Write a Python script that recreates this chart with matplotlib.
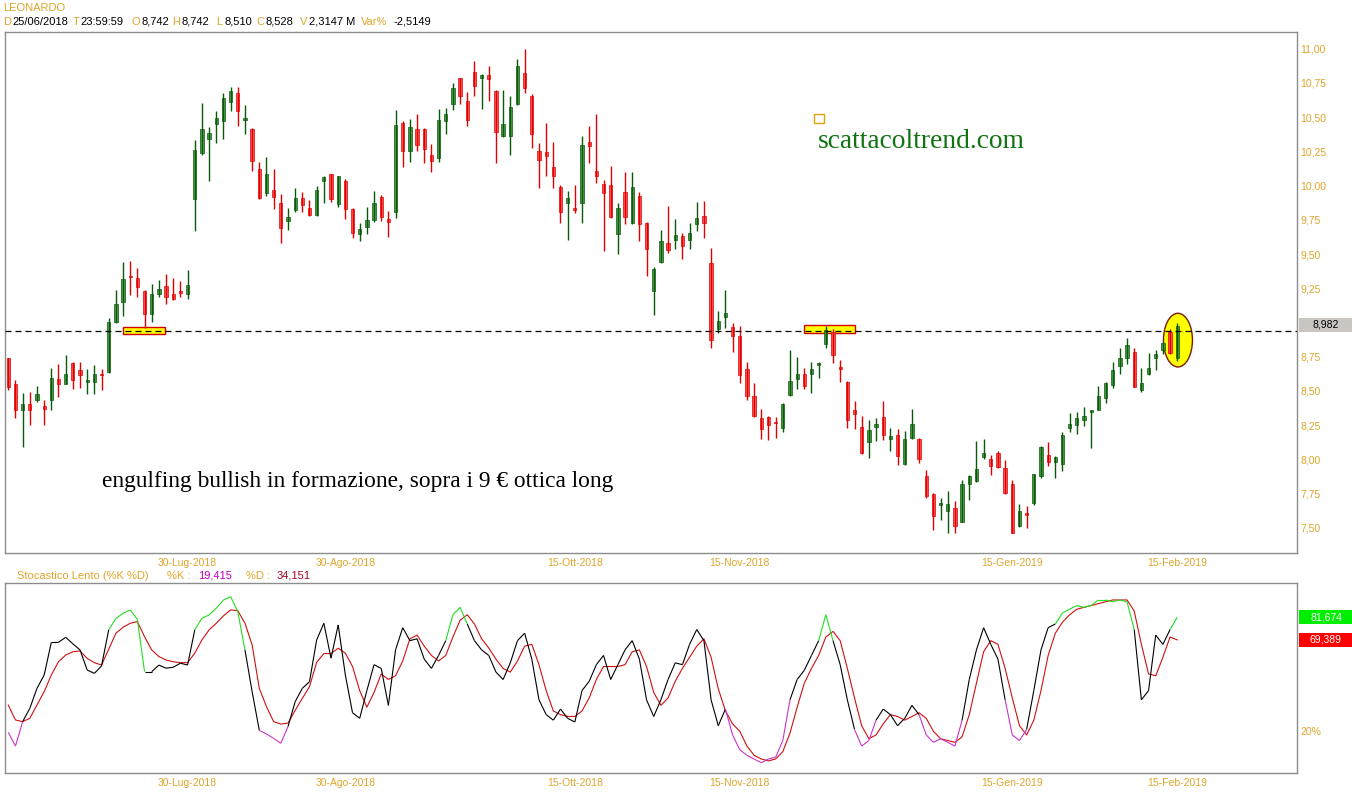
import numpy as np
import pandas as pd
import matplotlib
matplotlib.use('Agg')
import matplotlib.pyplot as plt
import matplotlib.transforms as mtransforms
from matplotlib.patches import Rectangle, Ellipse
from matplotlib.collections import LineCollection

plt.rcParams['font.family'] = ['Liberation Sans', 'DejaVu Sans']
plt.rcParams['lines.scale_dashes'] = False

W, H = 1352, 800

#%% data
opens = [8.742, 8.553, 8.357, 8.406, 8.430, 8.393, 8.430, 8.590, 8.553, 8.705,
         8.651, 8.567, 8.567, 8.626, 8.639, 9.006, 9.153, 9.342, 9.325, 9.227,
         9.063, 9.210, 9.264, 9.210, 9.227, 9.210, 9.901, 10.239, 10.337, 10.452,
         10.470, 10.607, 10.673, 10.479, 10.416, 10.122, 9.945, 9.970, 9.876, 9.741,
         9.822, 9.906, 9.839, 9.783, 10.036, 10.082, 9.864, 10.036, 9.832, 9.648,
         9.700, 9.750, 9.920, 9.759, 9.808, 10.460, 10.254, 10.411, 10.416, 10.224,
         10.200, 10.470, 10.599, 10.783, 10.617, 10.827, 10.783, 10.808, 10.690, 10.361,
         10.364, 10.599, 10.820, 10.656, 10.256, 10.244, 10.134, 9.987, 9.871, 9.839,
         9.876, 10.318, 10.110, 10.011, 10.006, 9.643, 9.955, 9.724, 9.925, 9.729,
         9.227, 9.445, 9.577, 9.606, 9.631, 9.606, 9.717, 9.778, 9.435, 8.950,
         9.038, 8.964, 8.901, 8.663, 8.460, 8.303, 8.308, 8.276, 8.229, 8.467,
         8.590, 8.621, 8.626, 8.688, 8.842, 8.933, 8.675, 8.565, 8.362, 8.239,
         8.124, 8.239, 8.308, 8.148, 8.180, 7.965, 8.156, 8.148, 7.879, 7.749,
         7.666, 7.626, 7.646, 7.543, 7.817, 7.842, 8.018, 8.001, 8.043, 7.935,
         7.817, 7.511, 7.609, 7.683, 7.879, 8.033, 7.984, 7.965, 8.229, 8.249,
         8.288, 8.344, 8.362, 8.450, 8.541, 8.680, 8.737, 8.786, 8.504, 8.626,
         8.737, 8.798, 8.933, 8.737]
highs = [8.742, 8.577, 8.484, 8.491, 8.533, 8.430, 8.670, 8.695, 8.761, 8.712,
         8.712, 8.663, 8.688, 8.663, 9.030, 9.239, 9.440, 9.447, 9.398, 9.239,
         9.283, 9.308, 9.357, 9.325, 9.300, 9.386, 10.330, 10.600, 10.428, 10.543,
         10.673, 10.722, 10.722, 10.592, 10.420, 10.175, 10.207, 10.121, 9.937, 9.839,
         9.979, 9.950, 9.896, 9.999, 10.072, 10.085, 10.072, 10.048, 9.839, 9.729,
         9.840, 9.962, 9.930, 9.815, 10.550, 10.470, 10.484, 10.526, 10.420, 10.305,
         10.560, 10.567, 10.746, 10.783, 10.680, 10.913, 10.813, 10.876, 10.697, 10.697,
         10.653, 10.925, 10.996, 10.666, 10.313, 10.460, 10.318, 10.004, 9.957, 10.004,
         10.362, 10.435, 10.526, 10.043, 10.146, 9.876, 10.102, 10.097, 9.955, 9.734,
         9.406, 9.678, 9.852, 9.754, 9.656, 9.729, 9.881, 9.889, 9.545, 9.087,
         9.234, 8.999, 8.974, 8.712, 8.558, 8.369, 8.320, 8.308, 8.411, 8.798,
         8.749, 8.670, 8.712, 8.712, 8.974, 8.950, 8.729, 8.572, 8.425, 8.320,
         8.288, 8.303, 8.425, 8.229, 8.222, 8.209, 8.369, 8.156, 7.920, 7.756,
         7.720, 7.768, 7.695, 7.847, 7.886, 8.136, 8.148, 8.033, 8.058, 7.994,
         7.847, 7.675, 7.658, 7.896, 8.100, 8.124, 8.026, 8.197, 8.337, 8.345,
         8.386, 8.362, 8.533, 8.565, 8.712, 8.810, 8.884, 8.810, 8.670, 8.778,
         8.798, 8.859, 8.950, 8.999]
lows = [8.510, 8.303, 8.087, 8.254, 8.418, 8.254, 8.362, 8.455, 8.548, 8.516,
        8.523, 8.479, 8.474, 8.509, 8.631, 8.999, 9.048, 9.202, 9.185, 8.957,
        9.006, 9.185, 9.136, 9.165, 9.185, 9.170, 9.668, 10.224, 10.036, 10.313,
        10.337, 10.546, 10.435, 10.379, 10.109, 9.901, 9.925, 9.827, 9.582, 9.675,
        9.808, 9.808, 9.778, 9.778, 9.871, 9.881, 9.840, 9.759, 9.619, 9.594,
        9.643, 9.734, 9.741, 9.626, 9.766, 10.134, 10.170, 10.254, 10.165, 10.102,
        10.175, 10.380, 10.550, 10.599, 10.435, 10.656, 10.558, 10.616, 10.165, 10.354,
        10.220, 10.592, 10.673, 10.271, 9.983, 10.072, 9.983, 9.729, 9.601, 9.798,
        9.729, 10.165, 10.018, 9.520, 9.766, 9.503, 9.717, 9.717, 9.594, 9.342,
        9.053, 9.435, 9.504, 9.538, 9.460, 9.538, 9.668, 9.619, 8.810, 8.920,
        8.957, 8.786, 8.558, 8.430, 8.308, 8.148, 8.141, 8.156, 8.197, 8.460,
        8.516, 8.516, 8.484, 8.597, 8.810, 8.705, 8.565, 8.229, 8.222, 8.038,
        8.009, 8.136, 8.141, 8.058, 7.960, 7.960, 8.148, 7.977, 7.715, 7.487,
        7.560, 7.460, 7.460, 7.543, 7.700, 7.837, 8.001, 7.886, 7.935, 7.749,
        7.462, 7.504, 7.499, 7.665, 7.862, 7.952, 7.862, 7.915, 8.197, 8.185,
        8.246, 8.082, 8.357, 8.411, 8.523, 8.621, 8.695, 8.528, 8.492, 8.614,
        8.656, 8.768, 8.773, 8.720]
closes = [8.528, 8.362, 8.406, 8.357, 8.474, 8.369, 8.597, 8.553, 8.626, 8.582,
          8.614, 8.582, 8.621, 8.616, 9.006, 9.136, 9.317, 9.332, 9.259, 9.063,
          9.210, 9.246, 9.185, 9.170, 9.215, 9.271, 10.261, 10.411, 10.386, 10.494,
          10.641, 10.690, 10.543, 10.496, 10.183, 9.906, 10.085, 9.920, 9.692, 9.773,
          9.906, 9.857, 9.783, 9.969, 10.066, 9.901, 10.067, 9.827, 9.656, 9.685,
          9.750, 9.871, 9.773, 9.734, 10.445, 10.249, 10.428, 10.293, 10.269, 10.183,
          10.477, 10.520, 10.714, 10.656, 10.477, 10.729, 10.808, 10.778, 10.391, 10.452,
          10.572, 10.876, 10.714, 10.379, 10.190, 10.215, 10.072, 9.808, 9.906, 9.822,
          10.298, 10.288, 10.067, 9.945, 9.773, 9.839, 9.773, 9.987, 9.717, 9.538,
          9.391, 9.592, 9.528, 9.636, 9.558, 9.656, 9.766, 9.724, 8.871, 9.013,
          9.067, 8.901, 8.614, 8.460, 8.320, 8.222, 8.254, 8.264, 8.401, 8.572,
          8.621, 8.533, 8.663, 8.705, 8.945, 8.761, 8.663, 8.288, 8.332, 8.050,
          8.214, 8.259, 8.180, 8.173, 8.026, 8.148, 8.259, 8.001, 7.732, 7.585,
          7.683, 7.675, 7.511, 7.817, 7.879, 7.928, 8.043, 7.952, 7.945, 7.756,
          7.462, 7.621, 7.592, 7.890, 8.087, 7.984, 8.016, 8.180, 8.259, 8.303,
          8.320, 8.357, 8.460, 8.558, 8.656, 8.744, 8.835, 8.528, 8.558, 8.670,
          8.768, 8.847, 8.778, 8.974]

# Stocastico lento %K and %D
k_slow = [19.415, 12.0, 25.2, 32.4, 43.2, 50.4, 68.1, 68.1, 70.8, 67.3,
          64.0, 53.1, 51.3, 55.3, 74.8, 81.0, 83.8, 85.6, 80.5, 52.2,
          52.2, 55.8, 54.1, 54.6, 56.8, 55.8, 74.8, 81.1, 82.9, 86.5,
          91.0, 92.8, 84.7, 64.0, 41.4, 20.5, 18.5, 16.2, 13.5, 22.5,
          36.0, 43.2, 46.8, 69.4, 78.4, 59.5, 77.5, 50.4,
          30, 27, 42, 56, 54, 34, 64, 76, 69, 70,
          59, 54, 61, 69, 83, 87, 78, 69, 64, 61,
          52, 48, 57, 69, 73, 59, 37, 29, 26, 32,
          27, 25, 42, 47, 56, 61, 48, 56, 64, 69,
          59, 37, 28, 37, 48, 57, 56, 67, 75, 69,
          37, 23, 32, 18, 10, 7, 5, 3, 5, 6,
          15, 37, 48, 53, 61, 69, 83, 69, 56, 37,
          21, 12, 15, 26, 32, 29, 23, 27, 34, 29,
          18, 14, 16, 14, 12, 26, 48, 64, 76, 67,
          59, 37, 18, 15, 21, 42, 64, 76, 78, 84,
          86, 88, 87, 88, 91, 91, 90, 91, 90, 75,
          37, 42, 72, 67, 75, 81.674]
d_slow = [34.151, 26.1, 25.2, 27.0, 34.2, 41.4, 50.4, 57.6, 61.2, 63.0,
          63.4, 59.4, 57.1, 55.8, 64.3, 73.0, 76.2, 78.4, 79.3, 71.1,
          64.0, 60.4, 58.5, 57.6, 57.1, 57.1, 62.2, 69.4, 74.8, 78.4,
          82.4, 85.6, 85.2, 78.4, 66.7, 43.2, 33.3, 25.2, 23.9, 24.4,
          31.3, 37.8, 44.1, 57.3, 62.0, 62.0, 64.9, 62.2,
          55, 42, 33, 41, 51, 48, 50, 58, 70, 72,
          66, 61, 58, 61, 71, 80, 83, 78, 70, 65,
          59, 54, 52, 58, 66, 67, 56, 42, 31, 29,
          28, 28, 31, 38, 48, 55, 55, 55, 56, 63,
          64, 55, 41, 34, 38, 47, 54, 60, 66, 70,
          60, 43, 31, 24, 20, 12, 7, 5, 4, 5,
          9, 19, 33, 46, 54, 61, 71, 74, 69, 54,
          38, 23, 16, 18, 24, 29, 28, 26, 28, 30,
          27, 20, 16, 15, 14, 17, 29, 46, 63, 69,
          67, 54, 38, 23, 18, 26, 42, 61, 73, 79,
          83, 86, 87, 88, 89, 90, 91, 91, 91, 85,
          67, 51, 50, 60, 71, 69.389]

holidays = ['2018-08-15', '2018-12-24', '2018-12-25', '2018-12-26',
            '2018-12-31', '2019-01-01']
dates = pd.bdate_range('2018-06-25', '2019-02-15', freq='C', holidays=holidays)
tick_dates = ['2018-07-30', '2018-08-30', '2018-10-15', '2018-11-15',
              '2019-01-15', '2019-02-15']
tick_labels = ['30-Lug-2018', '30-Ago-2018', '15-Ott-2018', '15-Nov-2018',
               '15-Gen-2019', '15-Feb-2019']
price_ticks = [7.50, 7.75, 8.00, 8.25, 8.50, 8.75, 9.25, 9.50, 9.75,
               10.00, 10.25, 10.50, 10.75, 11.00]
level_line = 8.94
level_value = 8.982

GOLD = '#DFA52A'
GREEN_BODY, GREEN_WICK = '#4f9f4f', '#0a5a0a'
RED_BODY, RED_WICK = '#ff5a5a', '#e00000'
FRAME = '#8c8c8c'

o = np.array(opens); h = np.array(highs); l = np.array(lows); c = np.array(closes)
k = np.array(k_slow); d = np.array(d_slow)
n = len(c)
x = np.arange(n)
tick_idx = [dates.get_loc(pd.Timestamp(t)) for t in tick_dates]

def fx(px):
    return px / W

def fy(py):
    return 1 - py / H

def num(v, nd=3):
    return f'{v:.{nd}f}'.replace('.', ',')

fig = plt.figure(figsize=(W / 100, H / 100), dpi=100)
fig.patch.set_facecolor('white')
ax1 = fig.add_axes([fx(5), fy(553), fx(1292), (553 - 31.7) / H])
ax2 = fig.add_axes([fx(5), fy(772.7), fx(1292), (772.7 - 583.3) / H])

for ax in (ax1, ax2):
    for s in ax.spines.values():
        s.set_color(FRAME)
        s.set_linewidth(1)
    ax.set_xlim(-0.46, 179.7)
    ax.yaxis.tick_right()
    ax.tick_params(length=0, labelsize=7.5, labelcolor=GOLD)
    ax.tick_params(axis='y', pad=2.5)
    ax.tick_params(axis='x', pad=3.5)
    ax.set_xticks(tick_idx)
    ax.set_xticklabels(tick_labels)

#%% price panel
ax1.set_ylim(7.316, 11.124)
ax1.set_yticks(price_ticks)
ax1.set_yticklabels([num(v, 2) for v in price_ticks])

up = c >= o
body_lo = np.minimum(o, c)
body_h = np.maximum(np.abs(c - o), 0.008)
ax1.bar(x[up], body_h[up], bottom=body_lo[up], width=0.46,
        color=GREEN_BODY, edgecolor=GREEN_WICK, linewidth=0.5, zorder=3)
ax1.bar(x[~up], body_h[~up], bottom=body_lo[~up], width=0.46,
        color=RED_BODY, edgecolor=RED_WICK, linewidth=0.5, zorder=3)
ax1.vlines(x[up], l[up], h[up], color=GREEN_WICK, linewidth=1.0, zorder=4)
ax1.vlines(x[~up], l[~up], h[~up], color=RED_WICK, linewidth=1.0, zorder=4)

# annotations
ax1.add_patch(Rectangle((15.96, 8.913), 5.94, 0.052, facecolor='#ffff00',
                        edgecolor='#d40000', linewidth=1.0, zorder=2))
ax1.add_patch(Rectangle((111.0, 8.920), 7.0, 0.059, facecolor='#ffff00',
                        edgecolor='#d40000', linewidth=1.0, zorder=2))
ax1.add_patch(Ellipse((163.1, 8.871), 4.04, 0.392, facecolor='#ffff00',
                      edgecolor='#7a1a00', linewidth=1.0, zorder=2))
ax1.axhline(level_line, color='black', linewidth=0.9, dashes=(4.3, 2.9), zorder=5)

ax1.add_patch(Rectangle((112.4, 10.455), 1.4, 0.068, facecolor='none',
                        edgecolor='#e0a000', linewidth=1.0, zorder=2))
ax1.text(112.9, 10.275, 'scattacoltrend.com', family='Liberation Serif',
         fontsize=19.8, color='#127312', va='baseline', ha='left')
ax1.text(13.07, 7.798, 'engulfing bullish in formazione, sopra i 9 € ottica long',
         family='Liberation Serif', fontsize=16.8, color='black',
         va='baseline', ha='left')

# last level label box on the right
tr1 = mtransforms.blended_transform_factory(fig.transFigure, ax1.transData)
bh = 14 / 136.9
ax1.add_patch(Rectangle((fx(1299), level_value - bh / 2), fx(53), bh,
                        transform=tr1, facecolor='#c9c6c1', edgecolor='none',
                        clip_on=False))
ax1.text(fx(1326), level_value, num(level_value), transform=tr1,
         ha='center', va='center', fontsize=7.5, color='black')

#%% stochastic panel
ax2.set_ylim(-2.4, 100)
ax2.set_yticks([20])
ax2.set_yticklabels(['20%'])

pts = np.column_stack([x, k])
segs = np.stack([pts[:-1], pts[1:]], axis=1)
seg_colors = []
for a, b in zip(k[:-1], k[1:]):
    if max(a, b) > 80:
        seg_colors.append('#22dd22')
    elif min(a, b) < 20:
        seg_colors.append('#cc33cc')
    else:
        seg_colors.append('black')
ax2.plot(x, d, color='#d01010', linewidth=0.8, zorder=2)
ax2.add_collection(LineCollection(segs, colors=seg_colors, linewidths=0.8, zorder=3))

tr2 = mtransforms.blended_transform_factory(fig.transFigure, ax2.transData)
sh = 14 / 1.849
for val, col in ((k[-1], '#00ee00'), (d[-1], '#ff0000')):
    ax2.add_patch(Rectangle((fx(1299), val - sh / 2), fx(53), sh, transform=tr2,
                            facecolor=col, edgecolor='none', clip_on=False))
    ax2.text(fx(1326), val, num(val), transform=tr2,
             ha='center', va='center', fontsize=7.5, color='white')

#%% header texts
fig.text(fx(3), fy(8), 'LEONARDO', color=GOLD, fontsize=8, va='center')
header = [(3, 'D', GOLD), (12, dates[0].strftime('%d/%m/%Y'), 'black'),
          (73, 'T', GOLD), (80, '23:59:59', 'black'),
          (131, 'O', GOLD), (141, num(opens[0]), 'black'),
          (172, 'H', GOLD), (181, num(highs[0]), 'black'),
          (216, 'L', GOLD), (224, num(lows[0]), 'black'),
          (256, 'C', GOLD), (265, num(closes[0]), 'black'),
          (300, 'V', GOLD), (309, '2,3147 M', 'black'),
          (361, 'Var%', GOLD), (393, '-2,5149', 'black')]
for px_, s, col in header:
    fig.text(fx(px_), fy(22), s, color=col, fontsize=8, va='center')

stoch_head = [(17, 'Stocastico Lento (%K %D)', GOLD), (167, '%K :', GOLD),
              (198, num(k_slow[0]), '#c000c0'),
              (246, '%D :', GOLD),
              (277, num(d_slow[0]), '#b00020')]
for px_, s, col in stoch_head:
    fig.text(fx(px_), fy(576), s, color=col, fontsize=8, va='center')

fig.savefig('out.png', dpi=100, facecolor='white')
